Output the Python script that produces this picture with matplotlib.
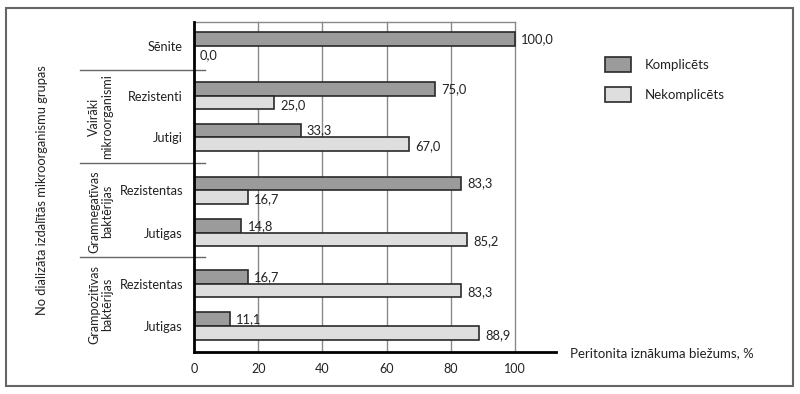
import matplotlib
matplotlib.use("Agg")
import matplotlib.pyplot as plt
from matplotlib.patches import Rectangle

plt.rcParams['font.family'] = ['Lato', 'DejaVu Sans']

categories = ["Sēnite", "Rezistenti", "Jutigi", "Rezistentas", "Jutigas", "Rezistentas", "Jutigas"]
komplicets = [100.0, 75.0, 33.3, 83.3, 14.8, 16.7, 11.1]
nekomplicets = [0.0, 25.0, 67.0, 16.7, 85.2, 83.3, 88.9]
groups = ["Vairāki\nmikroorganismi", "Gramnegatīvas\nbaktērijas", "Grampozitīvas\nbaktērijas"]
group_members = [(1, 2), (3, 4), (5, 6)]
xticks = [0, 20, 40, 60, 80, 100]
series_names = ["Komplicēts", "Nekomplicēts"]

ypos = [0, 1.2, 2.2, 3.48, 4.5, 5.73, 6.75]
separators = [0.58, 2.82, 5.1]
bh = 0.33

dark = "#9b9b9b"
light = "#dedede"
edge = "#2a2a2a"
txt = "#222222"

fig = plt.figure(figsize=(8.0, 3.94), dpi=100)
ax = fig.add_axes([194/800, 1-352/394, 362/800, 330/394])

for y, v in zip(ypos, komplicets):
    ax.barh(y - bh/2, v, height=bh, color=dark, edgecolor=edge, linewidth=1.2, zorder=3)
    ax.text(v + 1.9, y - bh/2, f"{v:.1f}".replace(".", ","), va="center", ha="left", fontsize=9.3, color=txt)
for y, v in zip(ypos, nekomplicets):
    if v > 0:
        ax.barh(y + bh/2, v, height=bh, color=light, edgecolor=edge, linewidth=1.2, zorder=3)
    ax.text(v + 1.9, y + bh/2 + 0.05, f"{v:.1f}".replace(".", ","), va="center", ha="left", fontsize=9.3, color=txt)

ax.set_xlim(0, 112.8)
ax.set_ylim(6.75 + 0.63, -0.58)

for t in xticks[1:]:
    ax.plot([t, t], [7.38, -0.58], color="#8a8a8a", lw=1.0, zorder=1, clip_on=False)
ax.plot([0, 100], [-0.58, -0.58], color="#8a8a8a", lw=1.0, zorder=1, clip_on=False)

for s in ["top", "right"]:
    ax.spines[s].set_visible(False)
ax.spines["left"].set_linewidth(2.0)
ax.spines["bottom"].set_linewidth(2.0)
ax.spines["left"].set_zorder(5)

ax.set_xticks(xticks)
ax.set_xticklabels([str(t) for t in xticks], fontsize=9, color=txt)
ax.tick_params(axis="x", length=0, pad=8)
ax.set_yticks(ypos)
ax.set_yticklabels(categories, fontsize=9.2, color=txt)
ax.tick_params(axis="y", length=0, pad=8)

# group separators
for s in separators:
    ax.plot([-35.5, 3.5], [s, s], color="#666666", lw=1.0, clip_on=False, zorder=4)

# group labels
for g, (a, b) in zip(groups, group_members):
    yc = (ypos[a] + ypos[b]) / 2
    ax.text(-29.0, yc, g, rotation=90, ha="center", va="center", fontsize=9,
            color=txt, linespacing=1.1, multialignment="center")

fig.text(42/800, 1-190/394, "No dializāta izdalītās mikroorganismu grupas", rotation=90,
         ha="center", va="center", fontsize=9.3, color=txt)
fig.text(570/800, 1-353/394, "Peritonita iznākuma biežums, %", ha="left", va="center",
         fontsize=9.5, color=txt)

# legend (manual)
for i, (name, col) in enumerate(zip(series_names, [dark, light])):
    top = 57 + i * 30
    fig.add_artist(Rectangle((605/800, 1-(top+15)/394), 26/800, 15/394, transform=fig.transFigure,
                             facecolor=col, edgecolor=edge, lw=1.2))
    fig.text(645/800, 1-(top+8)/394, name, ha="left", va="center", fontsize=9.5, color=txt)

fig.add_artist(Rectangle((6/800, 1-386/394), 787/800, 378/394, transform=fig.transFigure,
                         fill=False, edgecolor="#666666", lw=1.5))

fig.savefig("out.png", dpi=100)
